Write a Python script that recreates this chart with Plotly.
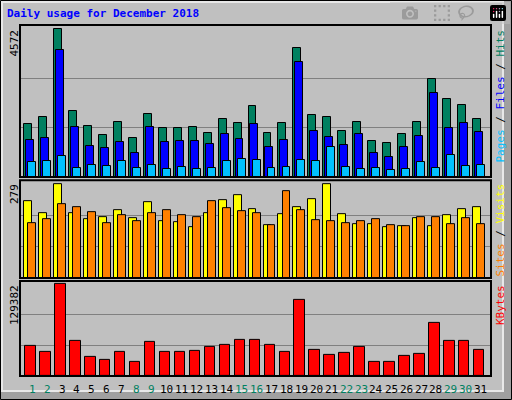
import plotly.graph_objects as go

days = list(range(1, 32))
hits = [1654,1871,4572,2056,1592,1312,1716,1220,1964,1530,1530,1561,1375,1809,1685,2212,
        1375,1685,4012,1933,1871,1437,1716,1127,1065,1344,1716,3050,2429,2243,1809]
files = [1158,1220,3950,1561,972,910,1096,755,1561,1096,1127,1127,1034,1344,1189,1654,
         941,1158,3578,1437,1251,1003,1344,755,631,941,1282,2615,1530,1685,1406]
pages = [476,507,662,290,383,352,507,290,383,259,321,259,290,507,569,538,
         290,321,538,507,941,321,259,290,228,259,476,290,693,352,383]
visits = [230,194,279,194,176,182,203,179,227,170,167,152,194,233,246,206,
          158,191,212,236,279,191,161,161,152,155,179,155,188,206,212]
sites = [164,176,221,212,197,164,188,170,194,203,188,182,230,209,200,194,
         158,258,203,173,170,164,170,176,158,155,182,182,161,179,161]
kbytes = [42970,34470,129382,50050,27390,23140,34470,20300,48640,34470,34470,35890,41550,44390,51470,51470,
          44390,34470,106720,37300,30220,33050,41550,20300,20300,28800,31640,75550,50050,50050,37300]
weekend = {1,2,8,9,15,16,22,23,29,30}

fig = go.Figure()
line = dict(color="black", width=1)
def bar(y, color, off, w, ax):
    fig.add_bar(x=days, y=y, offset=off, width=w, marker=dict(color=color, line=line),
                xaxis="x", yaxis=ax, showlegend=False)
bar(hits, "#008060", -0.53, 0.53, "y")
bar(files, "#0000FF", -0.40, 0.53, "y")
bar(pages, "#00C0FF", -0.26, 0.53, "y")
bar(visits, "#FFFF00", -0.53, 0.53, "y2")
bar(sites, "#FF8000", -0.26, 0.53, "y2")
bar(kbytes, "#FF0000", -0.46, 0.70, "y3")

mh, mv, mk = max(hits), max(visits), max(kbytes)
yax = dict(showticklabels=False, ticks="", gridcolor="#808080", gridwidth=1, zeroline=False,
           showline=False, fixedrange=True)
W, H, L, R, T, B = 512, 400, 20, 21, 25, 24
doms = [[0.567, 1], [0.279, 0.558], [0, 0.271]]
fig.update_layout(
    width=W, height=H, barmode="overlay", bargap=0,
    margin=dict(l=L, r=R, t=T, b=B),
    paper_bgcolor="#C0C0C0", plot_bgcolor="#C0C0C0",
    font=dict(family="DejaVu Sans Mono", size=11, color="black"),
    xaxis=dict(range=[0.19, 31.68], showticklabels=False, showgrid=False, zeroline=False, ticks="",
               anchor="y3", fixedrange=True),
    yaxis=dict(yax, domain=doms[0], range=[0, mh*1.03], tickvals=[mh/3, 2*mh/3]),
    yaxis2=dict(yax, domain=doms[1], range=[0, mv*1.047], tickvals=[mv/3, 2*mv/3]),
    yaxis3=dict(yax, domain=doms[2], range=[0, mk*1.036], tickvals=[mk/3, 2*mk/3]),
)
pw, ph = W - L - R, H - T - B
def px(x): return (x - L) / pw
def py(y): return (H - B - y) / ph
shapes = [
    dict(type="rect", xref="paper", yref="paper", x0=px(W-8), x1=px(W-1), y0=py(H-1), y1=py(1),
         line=dict(width=0), fillcolor="#A0A0A0", layer="below"),
    dict(type="rect", xref="paper", yref="paper", x0=px(1), x1=px(W-1), y0=py(H-1), y1=py(H-8),
         line=dict(width=0), fillcolor="#A0A0A0", layer="below"),
    dict(type="rect", xref="paper", yref="paper", x0=px(0.5), x1=px(W-0.5), y0=py(H-0.5), y1=py(0.5),
         line=dict(color="black", width=1)),
    dict(type="rect", xref="paper", yref="paper", x0=px(2), x1=px(W-9), y0=py(H-9), y1=py(2),
         line=dict(color="#E8E8E8", width=2)),
]
for d in doms:
    shapes.append(dict(type="rect", xref="paper", yref="paper", x0=0, x1=1, y0=d[0], y1=d[1],
                       line=dict(color="black", width=2)))
fig.update_layout(shapes=shapes)
ann = [dict(text="<b>Daily usage for December 2018</b>", x=px(5), y=py(14), xref="paper", yref="paper",
            xanchor="left", yanchor="middle", showarrow=False, font=dict(color="#0000FF", size=11))]
for d in days:
    ann.append(dict(text=str(d), x=d, y=py(389), xref="x", yref="paper", showarrow=False,
                    yanchor="middle", font=dict(color="#008060" if d in weekend else "black", size=11)))
for txt, ytop in [(str(mh), 28), (str(mv), 182), (str(mk), 283)]:
    ann.append(dict(text=txt, x=px(14), y=py(ytop), xref="paper", yref="paper", textangle=-90,
                    xanchor="center", yanchor="top", showarrow=False, font=dict(size=11)))
right = [("<span style='color:#00C0FF'>Pages</span> / <span style='color:#0000FF'>Files</span> / "
          "<span style='color:#008060'>Hits</span>", 28),
         ("<span style='color:#FF8000'>Sites</span> / <span style='color:#FFFF00'>Visits</span>", 182),
         ("<span style='color:#FF0000'>KBytes</span>", 283)]
for txt, ytop in right:
    ann.append(dict(text=txt, x=px(500), y=py(ytop), xref="paper", yref="paper", textangle=-90,
                    xanchor="center", yanchor="top", showarrow=False, font=dict(size=11)))
fig.update_layout(annotations=ann)
fig.write_html("out.html", post_script="document.body.style.margin='0';")
